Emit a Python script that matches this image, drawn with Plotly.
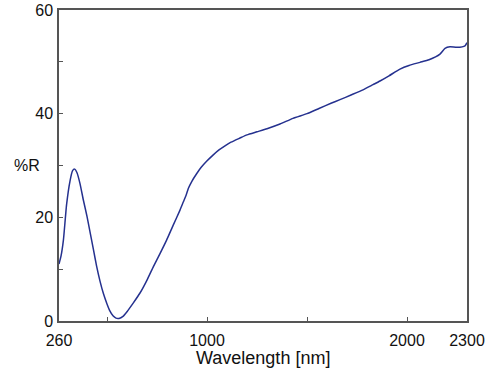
import plotly.graph_objects as go

wavelength = [260, 270, 282, 298, 315, 328, 338, 350, 365, 382, 400, 415, 432, 448, 465, 482,
              500, 515, 530, 545, 560, 580, 600, 630, 665, 700, 732, 765, 798, 830, 865, 882,
              895, 907, 925, 948, 970, 998, 1030, 1060, 1090, 1120, 1165, 1200, 1250, 1300,
              1365, 1430, 1500, 1560, 1620, 1665, 1720, 1780, 1830, 1865, 1910, 1965, 2010,
              2065, 2110, 2165, 2190, 2215, 2250, 2290, 2300]
reflectance = [11.0, 12.5, 15.6, 22.5, 27.0, 29.0, 29.3, 28.6, 26.5, 23.3, 20.2, 17.2, 13.8, 10.6,
               7.7, 5.3, 3.3, 1.9, 1.0, 0.55, 0.5, 0.9, 1.8, 3.4, 5.4, 7.9, 10.5, 13.0, 15.6, 18.4,
               21.4, 23.0, 24.2, 25.6, 27.0, 28.4, 29.6, 30.8, 32.0, 33.0, 33.8, 34.5, 35.3, 35.9,
               36.5, 37.1, 38.0, 39.1, 40.0, 41.0, 42.0, 42.7, 43.6, 44.6, 45.6, 46.3, 47.3, 48.6,
               49.3, 49.9, 50.4, 51.5, 52.6, 52.9, 52.8, 53.1, 53.7]

x_tickvals = [260, 500, 1000, 1500, 2000, 2300]
x_ticktext = ["260", "", "1000", "", "2000", "2300"]
y_tickvals = [0, 10, 20, 30, 40, 50, 60]
y_ticktext = ["0", "", "20", "", "40", "", "60"]

fig = go.Figure()
fig.add_trace(go.Scatter(x=wavelength, y=reflectance, mode="lines",
                         line=dict(color="#25318f", width=1.5, shape="spline", smoothing=0.5),
                         showlegend=False))

font = dict(family="Liberation Sans, Arial, sans-serif", size=16, color="#111")
axis_common = dict(showline=True, linecolor="#555", linewidth=1.5, mirror=True,
                   ticks="inside", ticklen=4, tickcolor="#555", tickwidth=1,
                   showgrid=False, zeroline=False, tickfont=font, automargin=False,
                   ticklabeloverflow="allow")

fig.update_layout(
    width=500, height=375,
    margin=dict(l=59, r=33, t=10, b=54),
    paper_bgcolor="white", plot_bgcolor="white",
    xaxis=dict(range=[260, 2300], tickvals=x_tickvals, ticktext=x_ticktext,
               ticklabelstandoff=4, **axis_common),
    yaxis=dict(range=[0, 60], tickvals=y_tickvals, ticktext=y_ticktext,
               ticklabelstandoff=1, **axis_common),
    annotations=[
        dict(text="%R", x=0, xref="paper", y=30, yref="y", xanchor="right", yanchor="middle",
             xshift=-17, showarrow=False, font=font),
        dict(text="Wavelength [nm]", x=0.5, xref="paper", y=-0.119, yref="paper",
             xanchor="center", yanchor="middle", showarrow=False, font=dict(font, size=18)),
    ],
)

fig.write_html("out.html", config={"displayModeBar": False},
               post_script="document.body.style.margin='0';")
